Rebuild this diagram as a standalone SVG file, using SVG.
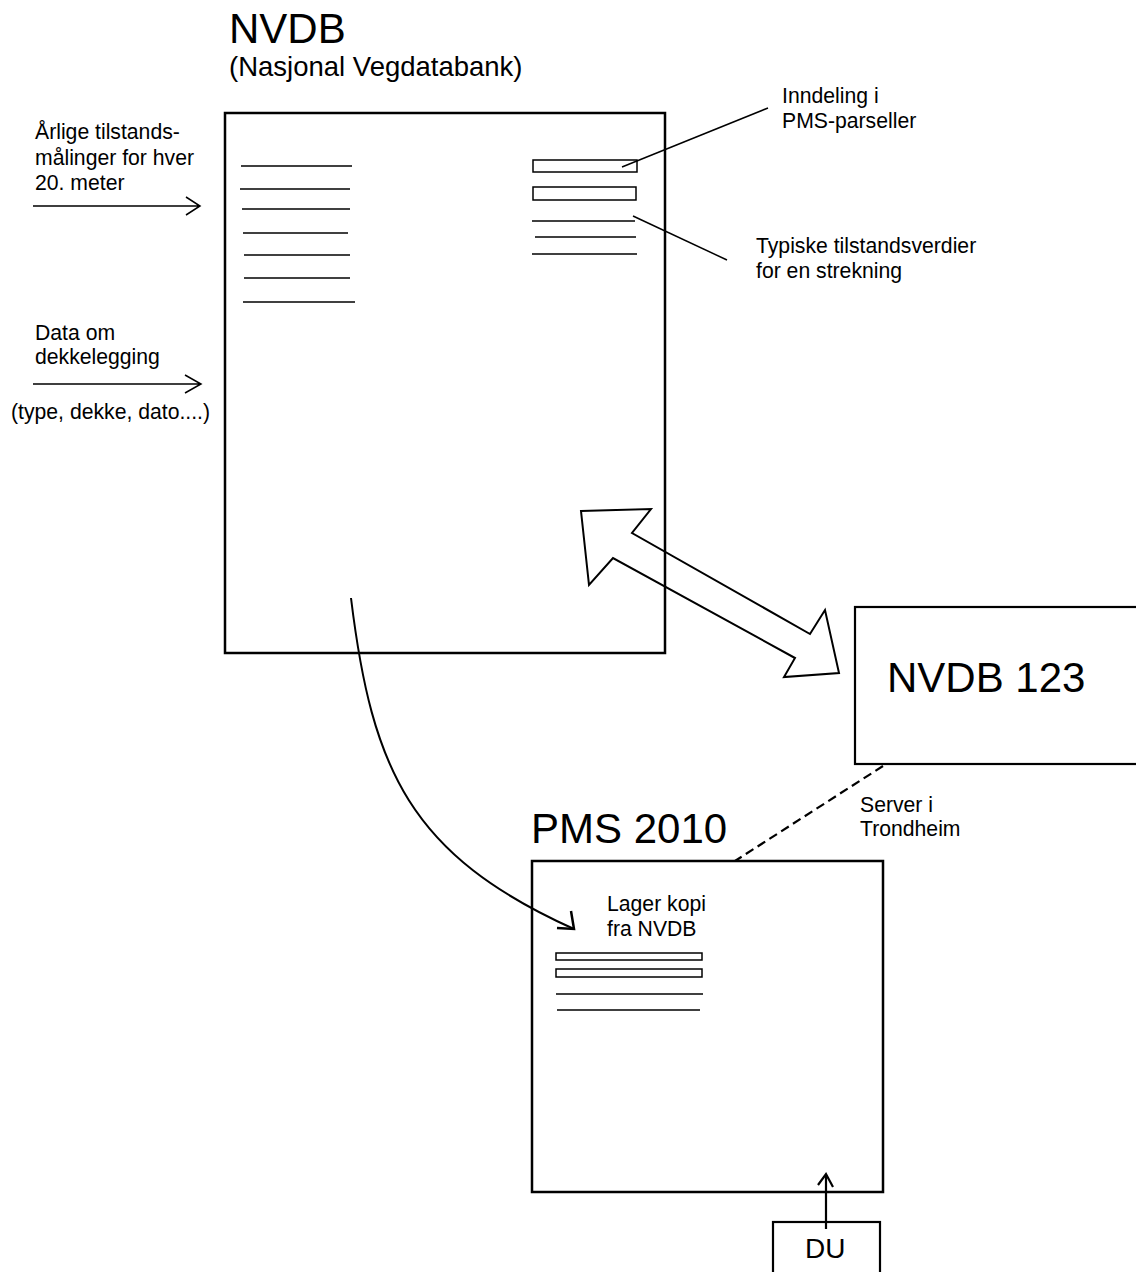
<svg xmlns="http://www.w3.org/2000/svg" width="1136" height="1272" viewBox="0 0 1136 1272">
<style>
text{font-family:"Liberation Sans",Arial,sans-serif;fill:#000}
.t{font-size:21.2px}
.big{font-size:42px}
.box{fill:none;stroke:#000;stroke-width:2.5}
.ln{fill:none;stroke:#000;stroke-width:1.5}
.cn{fill:none;stroke:#000;stroke-width:1.5}
</style>
<rect width="1136" height="1272" fill="#fff"/>
<g id="nvdb">
<rect class="box" x="225" y="113" width="440" height="540"/>
<text class="big" x="229" y="43">NVDB</text>
<text x="229" y="76" font-size="27.5">(Nasjonal Vegdatabank)</text>
<g class="ln">
<line x1="241" y1="166" x2="352" y2="166"/>
<line x1="240" y1="189" x2="350" y2="189"/>
<line x1="242" y1="209" x2="350" y2="209"/>
<line x1="243" y1="233" x2="348" y2="233"/>
<line x1="244" y1="255" x2="350" y2="255"/>
<line x1="244" y1="278" x2="350" y2="278"/>
<line x1="243" y1="302" x2="355" y2="302"/>
<rect x="533" y="160" width="104" height="12"/>
<rect x="533" y="187" width="103" height="13"/>
<line x1="532" y1="221" x2="635" y2="221"/>
<line x1="535" y1="237" x2="636" y2="237"/>
<line x1="532" y1="254" x2="637" y2="254"/>
</g>
</g>
<g id="label-inndeling">
<text class="t" x="782" y="103">Inndeling i</text>
<text class="t" x="782" y="128">PMS-parseller</text>
</g>
<g id="label-typiske">
<text class="t" x="756" y="253">Typiske tilstandsverdier</text>
<text class="t" x="756" y="278">for en strekning</text>
</g>
<g id="input-malinger">
<text class="t" x="35" y="139">Årlige tilstands-</text>
<text class="t" x="35" y="165">målinger for hver</text>
<text class="t" x="35" y="190">20. meter</text>
</g>
<g id="input-dekke">
<text class="t" x="35" y="340">Data om</text>
<text class="t" x="35" y="364">dekkelegging</text>
<text class="t" x="11" y="419">(type, dekke, dato....)</text>
</g>
<g id="nvdb123">
<rect x="855" y="607" width="290" height="157" fill="none" stroke="#000" stroke-width="2.2"/>
<text class="big" x="887" y="692">NVDB 123</text>
</g>
<g id="pms2010">
<rect class="box" x="532" y="861" width="351" height="331" stroke-width="3"/>
<text class="big" x="531" y="843" font-size="41">PMS 2010</text>
<text class="t" x="607" y="911">Lager kopi</text>
<text class="t" x="607" y="936">fra NVDB</text>
<g class="ln">
<rect x="556" y="953" width="146" height="7"/>
<rect x="556" y="969" width="146" height="8"/>
<line x1="556" y1="994" x2="703" y2="994"/>
<line x1="557" y1="1010" x2="700" y2="1010"/>
</g>
</g>
<g id="server-label">
<text class="t" x="860" y="812">Server i</text>
<text class="t" x="860" y="836">Trondheim</text>
</g>
<g id="du">
<rect x="773" y="1222" width="107" height="70" fill="none" stroke="#000" stroke-width="2.2"/>
<text x="805" y="1258" font-size="28">DU</text>
</g>
<g id="connectors">
<line class="cn" x1="622" y1="167" x2="768" y2="108"/>
<line class="cn" x1="633" y1="216" x2="727" y2="260"/>
<path class="cn" d="M33,206 H200 M186,197 L200,206 L186,215"/>
<path class="cn" d="M33,384 H201 M185,375 L201,384 L185,393"/>
<polygon points="581,511 651,509 632,533 810,634 825,610 839,673 784,677 795,658 613,558 589,585" fill="none" stroke="#000" stroke-width="2" stroke-linejoin="miter"/>
<path d="M351,598 C372,770 410,855 574,929" fill="none" stroke="#000" stroke-width="2"/>
<path d="M571,911 L574,929 L557,928" fill="none" stroke="#000" stroke-width="2.5"/>
<line x1="883" y1="766" x2="735" y2="861" stroke="#000" stroke-width="2.2" stroke-dasharray="9,5"/>
<path d="M826,1229 V1174 M818,1185 L826,1174 L833,1187" fill="none" stroke="#000" stroke-width="2.2"/>
</g>
</svg>
